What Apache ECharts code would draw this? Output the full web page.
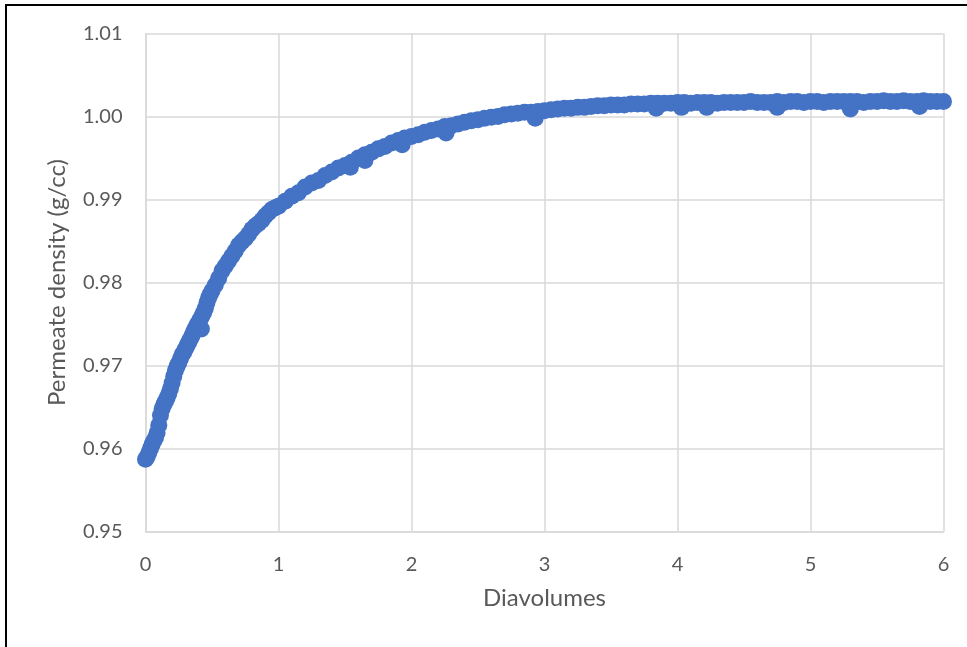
<!DOCTYPE html>
<html>
<head>
<meta charset="utf-8">
<script src="https://cdn.jsdelivr.net/npm/echarts@6/dist/echarts.min.js"></script>
<style>
html,body{margin:0;padding:0;background:#fff;}
#chart{width:967px;height:647px;}
</style>
</head>
<body>
<div id="chart"></div>
<script>
// Diavolumes (x) and permeate density in g/cc (y)
const diavolumes = [
  0.0000,0.0125,0.0250,0.0375,0.0500,0.0625,0.0750,0.0875,0.1000,0.1125,0.1250,0.1375,0.1500,0.1625,0.1750,0.1875,
  0.2000,0.2125,0.2250,0.2375,0.2500,0.2625,0.2750,0.2875,0.3000,0.3125,0.3250,0.3375,0.3500,0.3625,0.3750,0.3875,
  0.4000,0.4125,0.4200,0.4250,0.4375,0.4500,0.4625,0.4750,0.4875,
  0.50,0.525,0.55,0.575,0.60,0.625,0.65,0.675,0.70,0.725,0.75,0.775,0.80,0.825,0.85,0.875,0.90,0.925,0.95,0.975,1.00,
  1.05,1.10,1.15,1.20,1.25,1.30,1.35,1.40,1.45,1.50,1.54,1.55,1.60,1.65,1.65,1.70,1.75,1.80,1.85,1.90,1.93,1.95,2.00,
  2.05,2.10,2.15,2.20,2.25,2.26,2.30,2.35,2.40,2.45,2.50,2.55,2.60,2.65,2.70,2.75,2.80,2.85,2.90,2.93,2.95,3.00,
  3.05,3.10,3.15,3.20,3.25,3.30,3.35,3.40,3.45,3.50,3.55,3.60,3.65,3.70,3.75,3.80,3.84,3.85,3.90,3.95,4.00,
  4.03,4.05,4.10,4.15,4.20,4.22,4.25,4.30,4.35,4.40,4.45,4.50,4.55,4.60,4.65,4.70,4.75,4.75,4.80,4.85,4.90,4.95,5.00,
  5.05,5.10,5.15,5.20,5.25,5.30,5.30,5.35,5.40,5.45,5.50,5.55,5.60,5.65,5.70,5.75,5.80,5.82,5.85,5.90,5.95,6.00
];
const density = [
  0.9587,0.9590,0.9595,0.9600,0.9605,0.9609,0.9613,0.9619,0.9628,0.9640,0.9648,0.9653,0.9657,0.9661,0.9666,0.9672,
  0.9679,0.9687,0.9694,0.9699,0.9703,0.9708,0.9713,0.9716,0.9720,0.9724,0.9728,0.9732,0.9736,0.9741,0.9745,0.9749,
  0.9752,0.9756,0.9744,0.9760,0.9764,0.9769,0.9776,0.9782,0.9786,
  0.9790,0.9797,0.9805,0.9814,0.9820,0.9826,0.9832,0.9838,0.9845,0.9849,0.9853,0.9858,0.9864,0.9868,0.9871,0.9875,0.9880,0.9884,0.9888,0.9890,0.9892,
  0.9898,0.9904,0.9908,0.9915,0.9920,0.9923,0.9929,0.9933,0.9938,0.9941,0.9939,0.9945,0.9950,0.9954,0.9947,0.9957,0.9961,0.9964,0.9968,0.9971,0.9966,0.9974,0.9976,
  0.9978,0.9981,0.9983,0.9985,0.9988,0.9980,0.9989,0.9991,0.9993,0.9995,0.9996,0.9998,0.9999,1.0000,1.0002,1.0003,1.0004,1.0005,1.0005,0.9998,1.0006,1.0007,
  1.0008,1.0009,1.0010,1.0010,1.0011,1.0011,1.0012,1.0013,1.0013,1.0014,1.0014,1.0014,1.0015,1.0015,1.0015,1.0016,1.0010,1.0016,1.0016,1.0016,1.0017,
  1.0011,1.0017,1.0016,1.0017,1.0017,1.0011,1.0017,1.0016,1.0017,1.0017,1.0017,1.0017,1.0018,1.0017,1.0017,1.0017,1.0018,1.0011,1.0017,1.0018,1.0018,1.0017,1.0018,
  1.0018,1.0017,1.0018,1.0018,1.0018,1.0018,1.0009,1.0018,1.0017,1.0018,1.0018,1.0019,1.0018,1.0018,1.0019,1.0018,1.0018,1.0012,1.0019,1.0018,1.0018,1.0018
];
const xTicks = [0,1,2,3,4,5,6];
const yTickLabels = ['0.95','0.96','0.97','0.98','0.99','1.00','1.01'];

const points = diavolumes.map((x, i) => [x, density[i]]);
const chart = echarts.init(document.getElementById('chart'), null, {renderer: 'canvas'});
const font = 'Lato, "Open Sans", sans-serif';
chart.setOption({
  animation: false,
  backgroundColor: '#ffffff',
  grid: {left: 145.5, right: 23.5, top: 33.5, bottom: 115.5, containLabel: false},
  graphic: [{
    type: 'rect', silent: true, z: 100,
    shape: {x: 6, y: 5, width: 1200, height: 1000},
    style: {fill: 'none', stroke: '#000000', lineWidth: 2}
  }],
  xAxis: {
    type: 'value', min: xTicks[0], max: xTicks[xTicks.length - 1], interval: 1,
    name: 'Diavolumes', nameLocation: 'middle', nameGap: 55,
    nameTextStyle: {fontFamily: font, fontSize: 24, color: '#595959'},
    axisLine: {show: true, lineStyle: {color: '#d9d9d9', width: 1.5}},
    axisTick: {show: false},
    axisLabel: {fontFamily: font, fontSize: 20, color: '#595959', margin: 23},
    splitLine: {show: true, lineStyle: {color: '#d9d9d9', width: 1.5}}
  },
  yAxis: {
    type: 'value', min: 0.95, max: 1.01, interval: 0.01,
    name: 'Permeate density (g/cc)', nameLocation: 'middle', nameGap: 76,
    nameTextStyle: {fontFamily: font, fontSize: 24, color: '#595959'},
    axisLine: {show: true, lineStyle: {color: '#d9d9d9', width: 1.5}},
    axisTick: {show: false},
    axisLabel: {
      fontFamily: font, fontSize: 20, color: '#595959', margin: 23,
      formatter: function (v) {
        const idx = Math.round((v - 0.95) / 0.01);
        return yTickLabels[idx] !== undefined ? yTickLabels[idx] : v.toFixed(2);
      }
    },
    splitLine: {show: true, lineStyle: {color: '#d9d9d9', width: 1.5}}
  },
  series: [{
    type: 'scatter',
    data: points,
    symbol: 'circle',
    symbolSize: 17,
    itemStyle: {color: '#4472c4', opacity: 1},
    z: 5
  }]
});
</script>
</body>
</html>
